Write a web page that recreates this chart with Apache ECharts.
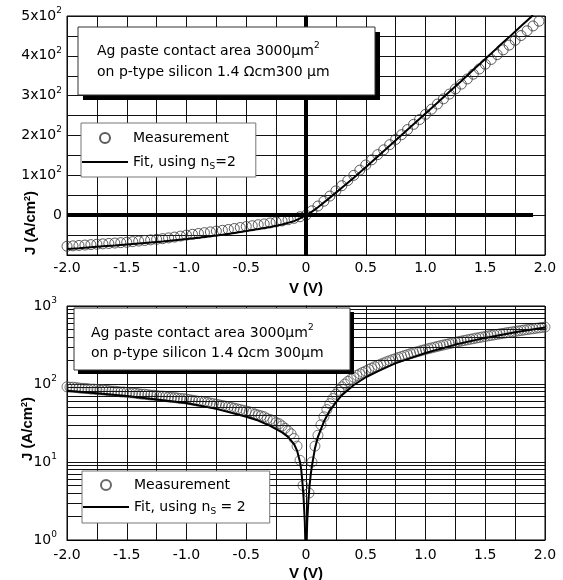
<!DOCTYPE html>
<html><head><meta charset="utf-8">
<script src="https://cdn.jsdelivr.net/npm/echarts@6/dist/echarts.min.js"></script>
<style>html,body{margin:0;padding:0;background:#fff}#c{width:563px;height:580px}</style>
</head><body><div id="c"></div>
<script>
// ---------- data ----------
// Top panel: linear J-V
const topMeasV = [-2,-1.95,-1.9,-1.85,-1.8,-1.75,-1.7,-1.65,-1.6,-1.55,-1.5,-1.45,-1.4,-1.35,-1.3,-1.25,-1.2,-1.15,-1.1,-1.05,-1,-0.95,-0.9,-0.85,-0.8,-0.75,-0.7,-0.65,-0.6,-0.55,-0.5,-0.45,-0.4,-0.35,-0.3,-0.25,-0.2,-0.15,-0.1,-0.05,0,0.05,0.1,0.15,0.2,0.25,0.3,0.35,0.4,0.45,0.5,0.55,0.6,0.65,0.7,0.75,0.8,0.85,0.9,0.95,1,1.05,1.1,1.15,1.2,1.25,1.3,1.35,1.4,1.45,1.5,1.55,1.6,1.65,1.7,1.75,1.8,1.85,1.9,1.95];
const topMeasJ = [-78,-77,-76,-75,-74,-73,-72,-71,-70,-69,-68,-66.5,-65,-63.5,-62,-60.5,-59,-57,-55,-52.5,-50,-48,-46,-44,-42,-40,-38,-36,-33.5,-31,-28.5,-26.5,-24,-22,-19.5,-17,-14.5,-11.5,-8,-4,0,11,23,35,48,61,74,87,100,113,126,139,152,164,177,190,202,215,228,240,253,266,279,292,304,317,329,342,354,367,379,391,403,415,427,439,451,463,475,487];
const topFitV = [-2,-1.9,-1.8,-1.7,-1.6,-1.5,-1.4,-1.3,-1.2,-1.1,-1,-0.9,-0.8,-0.7,-0.6,-0.5,-0.4,-0.3,-0.2,-0.1,-0.05,0,0.05,0.1,0.2,0.3,0.4,0.5,0.6,0.7,0.8,0.9,1,1.1,1.2,1.3,1.4,1.5,1.6,1.7,1.8,1.9];
const topFitJ = [-85,-83,-80.5,-78,-76,-73.5,-71,-68.5,-66,-63,-60,-56.5,-53,-49,-44.5,-40,-35,-29.5,-23.5,-15,-8,0,9,20,44,69,94,120,147,174,201,228,255,282,310,337,365,392,420,447,475,502];

// Bottom panel: |J| on log scale
const botMeasV = [-2,-1.975,-1.95,-1.925,-1.9,-1.875,-1.85,-1.825,-1.8,-1.775,-1.75,-1.725,-1.7,-1.675,-1.65,-1.625,-1.6,-1.575,-1.55,-1.525,-1.5,-1.475,-1.45,-1.425,-1.4,-1.375,-1.35,-1.325,-1.3,-1.275,-1.25,-1.225,-1.2,-1.175,-1.15,-1.125,-1.1,-1.075,-1.05,-1.025,-1,-0.975,-0.95,-0.925,-0.9,-0.875,-0.85,-0.825,-0.8,-0.775,-0.75,-0.725,-0.7,-0.675,-0.65,-0.625,-0.6,-0.575,-0.55,-0.525,-0.5,-0.475,-0.45,-0.425,-0.4,-0.375,-0.35,-0.325,-0.3,-0.275,-0.25,-0.225,-0.2,-0.175,-0.15,-0.125,-0.1,-0.075,-0.05,-0.025,
  0.025,0.05,0.075,0.1,0.125,0.15,0.175,0.2,0.225,0.25,0.275,0.3,0.325,0.35,0.375,0.4,0.425,0.45,0.475,0.5,0.525,0.55,0.575,0.6,0.625,0.65,0.675,0.7,0.725,0.75,0.775,0.8,0.825,0.85,0.875,0.9,0.925,0.95,0.975,1,1.025,1.05,1.075,1.1,1.125,1.15,1.175,1.2,1.225,1.25,1.275,1.3,1.325,1.35,1.375,1.4,1.425,1.45,1.475,1.5,1.525,1.55,1.575,1.6,1.625,1.65,1.675,1.7,1.725,1.75,1.775,1.8,1.825,1.85,1.875,1.9,1.925,1.95,1.975,2];
const botMeasJ = [92,91,91,90,89,88,88,87,86,86,85,84,84,83,82,81,81,80,79,79,78,77,77,76,75,74,74,73,72,72,71,70,70,69,68,67,67,66,65,65,64,63,62,61,60,60,59,58,57,56,55,54,53,52,51,50,49,48,47,46,45,44,43,41,40,39,38,36,35,34,32,31,29,27,25,23,20,16,10.5,5,
  4,10,16,22,30,38,47,56,65,74,83,92,100,108,115,122,129,135,141,147,154,160,167,173,180,186,193,199,206,212,219,225,232,238,245,251,258,264,271,277,284,290,297,303,310,316,323,329,336,342,349,355,362,368,375,381,388,394,401,407,414,420,427,433,440,446,453,459,466,472,479,485,492,498,505,511,518,524,531,537];
const botFitV = [-2,-1.75,-1.5,-1.25,-1,-0.75,-0.5,-0.4,-0.3,-0.2,-0.15,-0.1,-0.075,-0.05,-0.04,-0.03,-0.02,-0.01,-0.005,-0.002,0.002,0.005,0.01,0.02,0.03,0.04,0.05,0.075,0.1,0.15,0.2,0.25,0.3,0.4,0.5,0.6,0.75,1,1.25,1.5,1.75,2];
const botFitJ = [82,76,70,63.5,57,48,38,34,29,24,21,17,14,10,8,5.5,3.4,1.7,0.85,0.3,0.3,0.85,1.7,3.2,5,7,9,15,21,33,46,58,72,97,122,145,185,250,320,390,460,530];

// tick labels
const xTickLabels = ['-2.0','-1.5','-1.0','-0.5','0','0.5','1.0','1.5','2.0'];
const topYTickLabels = ['', '0', '1x10^2', '2x10^2', '3x10^2', '4x10^2', '5x10^2'];
const botYTickLabels = ['10^0', '10^1', '10^2', '10^3'];
const logMinorValues = [2,3,4,5,6,7,8,9,20,30,40,50,60,70,80,90,200,300,400,500,600,700,800,900];

// ---------- chart ----------
const FONT = 'DejaVu Sans';
const BOLD = 'Liberation Sans';
const zip = (a, b) => a.map((v, i) => [v, b[i]]);
// "5x10^2" -> "{n|5x10}{sup|2}"
const richTick = s => {
  if (!s) return '';
  const p = s.split('^');
  return '{n|' + p[0] + '}' + (p[1] ? '{sup|' + p[1] + '}' : '');
};
const axisRich = {
  n: {fontFamily: FONT, fontSize: 14, color: '#000', lineHeight: 20},
  sup: {fontFamily: FONT, fontSize: 9, color: '#000', lineHeight: 10, verticalAlign: 'top'}
};
const gridLine = {show: true, lineStyle: {color: '#111', width: 1}};

function xAxis(gi, margin) {
  return {
    type: 'value', gridIndex: gi, min: -2, max: 2, interval: 0.5,
    axisLine: {show: true, onZero: false, lineStyle: {color: '#000', width: 1}},
    axisTick: {show: false},
    splitLine: gridLine,
    minorTick: {show: false, splitNumber: 2},
    minorSplitLine: gridLine,
    axisLabel: {margin: margin, fontFamily: FONT, fontSize: 14, color: '#000',
      formatter: v => xTickLabels[Math.round((v + 2) / 0.5)]},
    name: 'V (V)', nameLocation: 'middle', nameGap: 26, nameMoveOverlap: false,
    nameTextStyle: {fontFamily: BOLD, fontWeight: 'bold', fontSize: 15, color: '#000'}
  };
}
const yNameStyle = shift => ({
  fontFamily: BOLD, fontWeight: 'bold', fontSize: 15, color: '#000',
  padding: [0, shift, 0, 0],
  rich: {sup: {fontFamily: BOLD, fontWeight: 'bold', fontSize: 9, color: '#000', lineHeight: 8, verticalAlign: 'top'}}
});

const legendNames = {
  'Measurement': 'Measurement',
  'Fit, using nS=2': 'Fit, using n{sub|S}=2',
  'Measurement (log)': 'Measurement',
  'Fit, using nS = 2': 'Fit, using n{sub|S} = 2'
};
const legendText = {
  fontFamily: FONT, fontSize: 14, color: '#000', lineHeight: 18,
  rich: {sub: {fontFamily: FONT, fontSize: 9, color: '#000', lineHeight: 6, verticalAlign: 'bottom'}}
};
const circleStyle = {color: 'rgba(255,255,255,0)', borderColor: '#333', borderWidth: 1};

function box(x, y, w, h, off, tx, ty, lh, text) {
  return [
    {type: 'rect', z: 100, silent: true, shape: {x: x + off, y: y + off, width: w, height: h}, style: {fill: '#000'}},
    {type: 'rect', z: 101, silent: true, shape: {x: x, y: y, width: w, height: h}, style: {fill: '#fff', stroke: '#333', lineWidth: 1}},
    {type: 'text', z: 102, silent: true, x: tx, y: ty, style: {
      text: text, fontFamily: FONT, fontSize: 14, fill: '#000', lineHeight: lh, verticalAlign: 'top',
      rich: {sup: {fontFamily: FONT, fontSize: 9, fill: '#000', lineHeight: 8, verticalAlign: 'top'}}
    }}
  ];
}

const chart = echarts.init(document.getElementById('c'), null, {renderer: 'canvas'});
chart.setOption({
  animation: false,
  backgroundColor: '#fff',
  grid: [
    {left: 67, top: 16, width: 478, height: 239, show: true, borderColor: '#000', borderWidth: 1,
     backgroundColor: 'transparent', containLabel: false, outerBoundsMode: 'none'},
    {left: 67, top: 306, width: 478, height: 234, show: true, borderColor: '#000', borderWidth: 1,
     backgroundColor: 'transparent', containLabel: false, outerBoundsMode: 'none'}
  ],
  xAxis: [xAxis(0, 6), xAxis(1, 8)],
  yAxis: [
    {type: 'value', gridIndex: 0, min: -100, max: 500, interval: 100,
     axisLine: {show: true, lineStyle: {color: '#000'}}, axisTick: {show: false},
     splitLine: gridLine, minorTick: {show: false, splitNumber: 2}, minorSplitLine: gridLine,
     axisLabel: {margin: 5, rich: axisRich,
       formatter: v => richTick(topYTickLabels[Math.round((v + 100) / 100)])},
     name: 'J (A/cm{sup|2})', nameLocation: 'middle', nameRotate: 90, nameGap: 29, nameMoveOverlap: false,
     nameTextStyle: yNameStyle(175)},
    {type: 'log', gridIndex: 1, logBase: 10, min: 1, max: 1000,
     axisLine: {show: true, lineStyle: {color: '#000'}}, axisTick: {show: false},
     splitLine: gridLine,
     axisLabel: {margin: 10, rich: axisRich,
       formatter: v => richTick(botYTickLabels[Math.round(Math.log10(v))])},
     name: 'J (A/cm{sup|2})', nameLocation: 'middle', nameRotate: 90, nameGap: 32, nameMoveOverlap: false,
     nameTextStyle: yNameStyle(12)}
  ],
  legend: [
    {orient: 'vertical', left: 81, top: 123, padding: [6, 20, 6, 0], itemWidth: 46, itemHeight: 10, itemGap: 6,
     backgroundColor: '#fff', borderColor: '#777', borderWidth: 1, z: 10, selectedMode: false,
     data: ['Measurement', {name: 'Fit, using nS=2', itemStyle: {opacity: 0}}],
     formatter: n => legendNames[n], textStyle: legendText},
    {orient: 'vertical', left: 82, top: 471, padding: [5, 24, 7, 0], itemWidth: 46, itemHeight: 10, itemGap: 4,
     backgroundColor: '#fff', borderColor: '#777', borderWidth: 1, z: 10, selectedMode: false,
     data: ['Measurement (log)', {name: 'Fit, using nS = 2', itemStyle: {opacity: 0}}],
     formatter: n => legendNames[n], textStyle: legendText}
  ],
  graphic: [
    ...box(78, 27, 297, 68, 5, 97, 41, 21, 'Ag paste contact area 3000μm{sup|2}\non p-type silicon 1.4 Ωcm300 μm'),
    ...box(74, 308, 276, 62, 4, 91, 323, 20, 'Ag paste contact area 3000μm{sup|2}\non p-type silicon 1.4 Ωcm 300μm')
  ],
  series: [
    {name: 'Measurement', type: 'scatter', xAxisIndex: 0, yAxisIndex: 0, data: zip(topMeasV, topMeasJ),
     symbol: 'circle', symbolSize: 10, itemStyle: circleStyle, z: 2, clip: true, silent: true},
    {name: 'Fit, using nS=2', type: 'line', xAxisIndex: 0, yAxisIndex: 0, data: zip(topFitV, topFitJ),
     symbol: 'none', lineStyle: {color: '#000', width: 2}, itemStyle: {color: '#000'}, z: 3, clip: true, silent: true,
     markLine: {silent: true, symbol: ['none', 'none'], label: {show: false}, z: 3,
       lineStyle: {color: '#000', width: 4, type: 'solid'},
       data: [{xAxis: 0}, [{coord: [-2, 0]}, {coord: [1.9, 0]}]]}},
    {name: 'Measurement (log)', type: 'scatter', xAxisIndex: 1, yAxisIndex: 1, data: zip(botMeasV, botMeasJ),
     symbol: 'circle', symbolSize: 10, itemStyle: {color: 'rgba(255,255,255,0)', borderColor: '#444', borderWidth: 0.9}, z: 2, clip: true, silent: true},
    {name: 'Fit, using nS = 2', type: 'line', xAxisIndex: 1, yAxisIndex: 1, data: zip(botFitV, botFitJ),
     symbol: 'none', lineStyle: {color: '#000', width: 2}, itemStyle: {color: '#000'}, z: 3, clip: true, silent: true,
     markLine: {silent: true, symbol: ['none', 'none'], label: {show: false}, z: 3,
       lineStyle: {color: '#111', width: 1, type: 'solid'},
       data: logMinorValues.map(v => ({yAxis: v}))}}
  ]
});
</script></body></html>
